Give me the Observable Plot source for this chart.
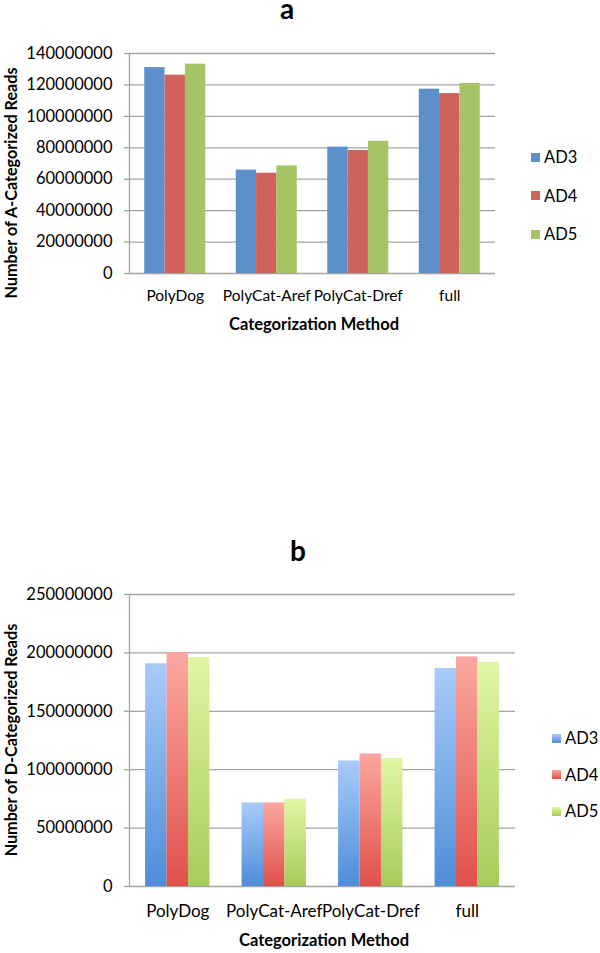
<!DOCTYPE html>
<html><head><meta charset="utf-8">
<script src="https://cdn.jsdelivr.net/npm/d3@7"></script>
<script src="https://cdn.jsdelivr.net/npm/@observablehq/plot@0.6"></script>
<style>
body{margin:0;background:#fff;font-family:Lato,"Open Sans",sans-serif;}
#page{position:relative;width:600px;height:953px;overflow:hidden;background:#fff}
.abs{position:absolute;white-space:nowrap;color:#000;line-height:1}
.ctr{transform:translate(-50%,-50%)}
.rot{transform:translate(-50%,-50%) rotate(-90deg)}
svg{position:absolute;left:0;overflow:visible}
</style></head><body><div id="page"></div><script>
// ---- data ----
const categories = ["PolyDog", "PolyCat-Aref", "PolyCat-Dref", "full"];
const series = ["AD3", "AD4", "AD5"];
// chart a: Number of A-Categorized Reads
const aAD3 = [131000000, 65800000, 80400000, 117300000];
const aAD4 = [126200000, 63800000, 78300000, 114500000];
const aAD5 = [133200000, 68500000, 84100000, 120900000];
const aTicks = [0, 20000000, 40000000, 60000000, 80000000, 100000000, 120000000, 140000000];
// chart b: Number of D-Categorized Reads
const bAD3 = [190700000, 71600000, 107500000, 186600000];
const bAD4 = [200300000, 71600000, 113500000, 196600000];
const bAD5 = [196000000, 74700000, 109600000, 191800000];
const bTicks = [0, 50000000, 100000000, 150000000, 200000000, 250000000];

const page = document.getElementById("page");
const GRID = "#a3a3a3";
// each category occupies one unit on the x scale; the group of bars fills the middle 2/3
const GROUP_PAD = 1 / 6, BAR_W = (2 / 3) / series.length;

function addText(txt, x, y, cls, style) {
  const d = document.createElement("div");
  d.className = "abs " + cls;
  d.textContent = txt;
  d.style.left = x + "px";
  d.style.top = y + "px";
  Object.assign(d.style, style || {});
  page.appendChild(d);
  return d;
}

function makeChart(cfg) {
  const vals = cfg.values;
  const rows = categories.flatMap((c, i) => series.map((s, j) => ({
    category: c, series: s, value: vals[j][i],
    x1: i + GROUP_PAD + j * BAR_W, x2: i + GROUP_PAD + (j + 1) * BAR_W
  })));
  const svg = Plot.plot({
    width: 600,
    height: cfg.height,
    marginLeft: 129,
    marginRight: cfg.marginRight,
    marginTop: cfg.marginTop,
    marginBottom: cfg.marginBottom,
    x: {type: "linear", domain: [0, categories.length], axis: null},
    y: {domain: [0, cfg.ticks[cfg.ticks.length - 1]], axis: null},
    color: {domain: series, range: cfg.colors},
    style: {fontFamily: "Lato, 'Open Sans', sans-serif", color: "#000", background: "transparent"},
    marks: [
      Plot.ruleY(cfg.ticks, {stroke: GRID, strokeWidth: 1.3}),
      Plot.rectY(rows, {x1: "x1", x2: "x2", y: "value", fill: "series"}),
      Plot.ruleX([0], {stroke: GRID, strokeWidth: 1.3}),
      Plot.axisY({ticks: cfg.ticks, tickFormat: d3.format("d"), tickSize: 5, tickPadding: 12, stroke: GRID, strokeWidth: 1.3, fontSize: 16.5, label: null}),
      Plot.axisX({ticks: categories.map((c, i) => i + 0.5), tickFormat: d => categories[Math.floor(d)], tickSize: 0, tickPadding: cfg.catPad, fontSize: cfg.catFont, label: null})
    ]
  });
  svg.style.top = cfg.top + "px";
  if (cfg.gradients) {
    const defs = d3.select(svg).insert("defs", ":first-child");
    cfg.gradients.forEach(g => {
      const lg = defs.append("linearGradient").attr("id", g.id).attr("x1", 0).attr("y1", 0).attr("x2", 0).attr("y2", 1);
      lg.append("stop").attr("offset", "0%").attr("stop-color", g.top);
      lg.append("stop").attr("offset", "100%").attr("stop-color", g.bottom);
    });
  }
  page.appendChild(svg);
}

// ---- chart a ----
const aColors = ["#5b90cb", "#cf625b", "#a5c464"];
makeChart({
  values: [aAD3, aAD4, aAD5], ticks: aTicks, colors: aColors,
  top: 0, height: 310, marginTop: 53, marginBottom: 37, marginRight: 105,
  catPad: 16, catFont: 15.5
});
addText("a", 287, 8, "ctr", {fontSize: "28px", fontWeight: "bold", lineHeight: "14px"});
addText("Number of A-Categorized Reads", 11, 183, "rot", {fontSize: "16.2px", fontWeight: "bold"});
addText("Categorization Method", 314, 324, "ctr", {fontSize: "16.5px", fontWeight: "bold"});
series.forEach((s, i) => {
  const cy = 157 + i * 38.5;
  addText("", 531, cy - 4.5, "", {width: "9px", height: "9px", background: aColors[i]});
  addText(s, 544, cy, "", {fontSize: "16.5px", transform: "translateY(-50%)"});
});

// ---- chart b ----
const bGrad = [
  {id: "gAD3", top: "#a8cbf9", bottom: "#4e8dd8"},
  {id: "gAD4", top: "#fba7a1", bottom: "#e0504a"},
  {id: "gAD5", top: "#e0f6a3", bottom: "#a7cb5a"}
];
makeChart({
  values: [bAD3, bAD4, bAD5], ticks: bTicks, colors: bGrad.map(g => `url(#${g.id})`), gradients: bGrad,
  top: 540, height: 386, marginTop: 54, marginBottom: 40, marginRight: 85,
  catPad: 18, catFont: 17
});
addText("b", 298, 550, "ctr", {fontSize: "28px", fontWeight: "bold"});
addText("Number of D-Categorized Reads", 11, 740, "rot", {fontSize: "16.2px", fontWeight: "bold"});
addText("Categorization Method", 324, 940, "ctr", {fontSize: "16.5px", fontWeight: "bold"});
series.forEach((s, i) => {
  const cy = 738 + i * 36.5;
  addText("", 552, cy - 4.5, "", {width: "9px", height: "9px", background: `linear-gradient(${bGrad[i].top}, ${bGrad[i].bottom})`});
  addText(s, 565, cy, "", {fontSize: "16.5px", transform: "translateY(-50%)"});
});
</script></body></html>
